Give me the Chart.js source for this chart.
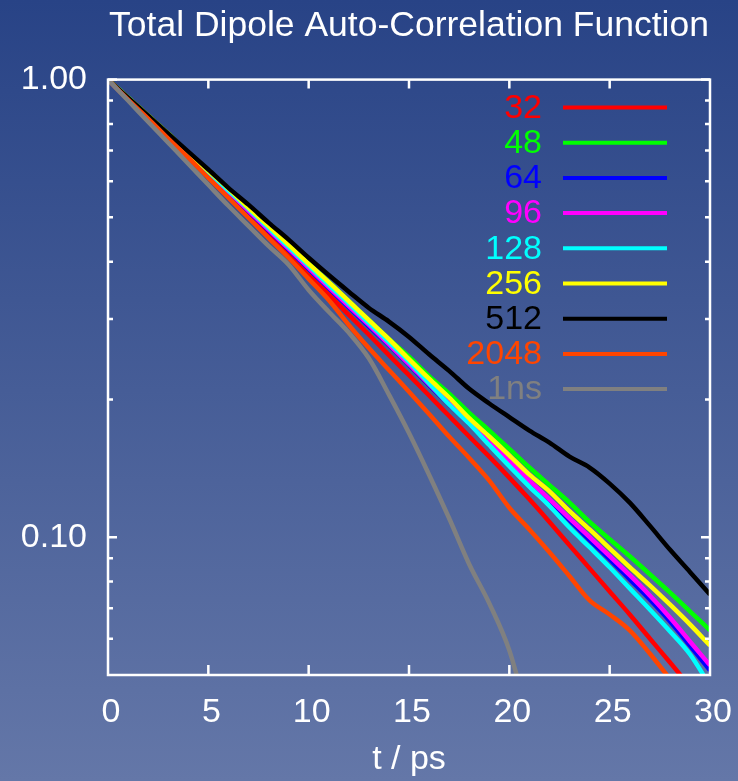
<!DOCTYPE html>
<html>
<head>
<meta charset="utf-8">
<title>Total Dipole Auto-Correlation Function</title>
<script src="https://cdn.jsdelivr.net/npm/chart.js@4.4.1/dist/chart.umd.min.js"></script>
<style>
  html, body { margin: 0; padding: 0; }
  #wrap { width: 738px; height: 781px; background: linear-gradient(#284386, #6477a8); }
</style>
</head>
<body>
<div id="wrap"><canvas id="acfChart" width="738" height="781"></canvas></div>
<script>
// time axis (ps)
const times = [0, 1, 2, 3, 4, 5, 6, 7, 8, 9, 10, 11, 12, 13, 14, 15, 16, 17, 18, 19, 20,
               21, 22, 23, 24, 25, 26, 27, 28, 29, 30];

// dipole ACF for each system size / run
const acf32   = [1.000, 0.909, 0.822, 0.747, 0.675, 0.614, 0.555, 0.504, 0.456, 0.412, 0.373, 0.339, 0.306, 0.277, 0.250, 0.226, 0.204, 0.184, 0.166, 0.150, 0.135, 0.121, 0.108, 0.0960, 0.0855, 0.0761, 0.0678, 0.0601, 0.0533, 0.0472, 0.0418];
const acf48   = [1.000, 0.913, 0.834, 0.762, 0.692, 0.632, 0.578, 0.525, 0.479, 0.436, 0.396, 0.361, 0.328, 0.298, 0.271, 0.248, 0.225, 0.206, 0.187, 0.171, 0.156, 0.142, 0.130, 0.119, 0.108, 0.0990, 0.0909, 0.0830, 0.0758, 0.0689, 0.0626];
const acf64   = [1.000, 0.905, 0.822, 0.750, 0.683, 0.620, 0.566, 0.514, 0.468, 0.425, 0.386, 0.350, 0.318, 0.289, 0.263, 0.238, 0.215, 0.195, 0.177, 0.160, 0.146, 0.132, 0.120, 0.109, 0.0986, 0.0895, 0.0809, 0.0731, 0.0655, 0.0580, 0.0512];
const acf96   = [1.000, 0.909, 0.826, 0.754, 0.686, 0.623, 0.569, 0.517, 0.470, 0.427, 0.388, 0.352, 0.320, 0.291, 0.264, 0.239, 0.216, 0.196, 0.178, 0.161, 0.147, 0.133, 0.121, 0.110, 0.100, 0.0909, 0.0826, 0.0746, 0.0668, 0.0592, 0.0525];
const acf128  = [1.000, 0.913, 0.830, 0.758, 0.689, 0.629, 0.572, 0.522, 0.474, 0.431, 0.392, 0.356, 0.324, 0.294, 0.267, 0.242, 0.217, 0.195, 0.177, 0.159, 0.143, 0.129, 0.117, 0.105, 0.0951, 0.0860, 0.0773, 0.0695, 0.0623, 0.0555, 0.0474];
const acf256  = [1.000, 0.913, 0.834, 0.762, 0.692, 0.632, 0.578, 0.525, 0.479, 0.436, 0.396, 0.361, 0.328, 0.298, 0.271, 0.245, 0.222, 0.202, 0.182, 0.166, 0.151, 0.137, 0.126, 0.114, 0.104, 0.0946, 0.0860, 0.0785, 0.0713, 0.0645, 0.0580];
const acf512  = [1.000, 0.913, 0.834, 0.762, 0.696, 0.636, 0.580, 0.533, 0.487, 0.447, 0.408, 0.374, 0.344, 0.317, 0.296, 0.274, 0.251, 0.231, 0.211, 0.196, 0.183, 0.171, 0.161, 0.150, 0.142, 0.131, 0.119, 0.106, 0.094, 0.084, 0.075];
const acf2048 = [1.000, 0.904, 0.822, 0.743, 0.675, 0.610, 0.552, 0.499, 0.451, 0.408, 0.367, 0.330, 0.291, 0.259, 0.232, 0.208, 0.186, 0.166, 0.149, 0.133, 0.116, 0.104, 0.0927, 0.0822, 0.0728, 0.0678, 0.0626, 0.0557, 0.0491, 0.0440, 0.0388];
const acf1ns  = [1.000, 0.900, 0.809, 0.728, 0.655, 0.589, 0.530, 0.479, 0.433, 0.394, 0.347, 0.311, 0.280, 0.246, 0.205, 0.169, 0.137, 0.110, 0.0873, 0.0717, 0.0566, 0.0394];

const seriesLabels = ['32', '48', '64', '96', '128', '256', '512', '2048', '1ns'];
const seriesColors = ['#ff0000', '#00ff00', '#0000ff', '#ff00ff', '#00ffff', '#ffff00', '#000000', '#ff4500', '#808080'];
const seriesData = [acf32, acf48, acf64, acf96, acf128, acf256, acf512, acf2048, acf1ns];

// axis ticks
const xTickValues = [0, 5, 10, 15, 20, 25, 30];
const yLabelValues = [0.1, 1];
const yMinorValues = [0.06, 0.07, 0.08, 0.09, 0.2, 0.3, 0.4, 0.5, 0.6, 0.7, 0.8, 0.9];

const fontFamily = '"Liberation Sans", Arial, Helvetica, sans-serif';

// white border with inward tick marks on all four sides
const frameAndTicks = {
  id: 'frameAndTicks',
  afterDatasetsDraw(chart) {
    const { ctx, chartArea: a, scales: { x, y } } = chart;
    ctx.save();
    ctx.strokeStyle = '#ffffff';
    ctx.lineWidth = 2.5;
    ctx.strokeRect(a.left, a.top, a.right - a.left, a.bottom - a.top);
    ctx.beginPath();
    xTickValues.slice(1, -1).forEach(t => {
      const px = x.getPixelForValue(t);
      ctx.moveTo(px, a.bottom); ctx.lineTo(px, a.bottom - 10);
      ctx.moveTo(px, a.top); ctx.lineTo(px, a.top + 9);
    });
    yLabelValues.forEach(v => {
      const py = y.getPixelForValue(v);
      ctx.moveTo(a.left, py); ctx.lineTo(a.left + 9, py);
      ctx.moveTo(a.right, py); ctx.lineTo(a.right - 9, py);
    });
    ctx.stroke();
    ctx.beginPath();
    yMinorValues.forEach(v => {
      const py = y.getPixelForValue(v);
      ctx.moveTo(a.left, py); ctx.lineTo(a.left + 5, py);
      ctx.moveTo(a.right, py); ctx.lineTo(a.right - 5, py);
    });
    ctx.stroke();
    ctx.restore();
  }
};

// key in the top right corner: coloured label, then a line sample
const seriesKey = {
  id: 'seriesKey',
  afterDatasetsDraw(chart) {
    const ctx = chart.ctx;
    ctx.save();
    ctx.font = '34px ' + fontFamily;
    ctx.textAlign = 'right';
    ctx.textBaseline = 'middle';
    ctx.lineWidth = 4;
    chart.data.datasets.forEach((ds, i) => {
      const rowY = 107.5 + i * 35.2;
      ctx.fillStyle = ds.borderColor;
      ctx.fillText(ds.label, 542, rowY + 1);
      ctx.strokeStyle = ds.borderColor;
      ctx.beginPath();
      ctx.moveTo(563, rowY);
      ctx.lineTo(667, rowY);
      ctx.stroke();
    });
    ctx.restore();
  }
};

const ctx = document.getElementById('acfChart').getContext('2d');
new Chart(ctx, {
  type: 'line',
  data: {
    datasets: seriesLabels.map((label, i) => ({
      label: label,
      data: seriesData[i].map((v, j) => ({ x: times[j], y: v })),
      borderColor: seriesColors[i],
      borderWidth: 4.5,
      pointRadius: 0,
      fill: false,
      cubicInterpolationMode: 'monotone',
      clip: 0,
      // later series are drawn over earlier ones
      order: seriesLabels.length - i
    }))
  },
  options: {
    responsive: false,
    animation: false,
    devicePixelRatio: 1,
    layout: { padding: { right: 28 } },
    plugins: {
      legend: { display: false },
      tooltip: { enabled: false },
      title: {
        display: true,
        text: 'Total Dipole Auto-Correlation Function',
        color: '#ffffff',
        fullSize: false,
        font: { family: fontFamily, size: 35.5, weight: 'normal', lineHeight: 1.2 },
        padding: { top: 5, bottom: 32 }
      }
    },
    scales: {
      x: {
        type: 'linear',
        min: 0,
        max: 30,
        grid: { display: false, drawTicks: false },
        border: { display: false },
        afterBuildTicks: scale => { scale.ticks = xTickValues.map(v => ({ value: v })); },
        afterFit: scale => {
          scale.height = 106;
          scale.paddingLeft = 0;
          scale.paddingRight = 0;
        },
        ticks: {
          color: '#ffffff',
          font: { family: fontFamily, size: 34 },
          padding: 17,
          labelOffset: 3,
          maxRotation: 0,
          autoSkip: false
        },
        title: {
          display: true,
          text: 't / ps',
          color: '#ffffff',
          font: { family: fontFamily, size: 34 },
          padding: { top: 0, bottom: 1 }
        }
      },
      y: {
        type: 'logarithmic',
        min: 0.05,
        max: 1,
        grid: { display: false, drawTicks: false },
        border: { display: false },
        afterBuildTicks: scale => { scale.ticks = yLabelValues.map(v => ({ value: v })); },
        afterFit: scale => {
          scale.width = 108;
          scale.paddingTop = 0;
          scale.paddingBottom = 0;
        },
        ticks: {
          color: '#ffffff',
          font: { family: fontFamily, size: 34 },
          padding: 21,
          autoSkip: false,
          callback: v => Number(v).toFixed(2)
        }
      }
    }
  },
  plugins: [frameAndTicks, seriesKey]
});
</script>
</body>
</html>
